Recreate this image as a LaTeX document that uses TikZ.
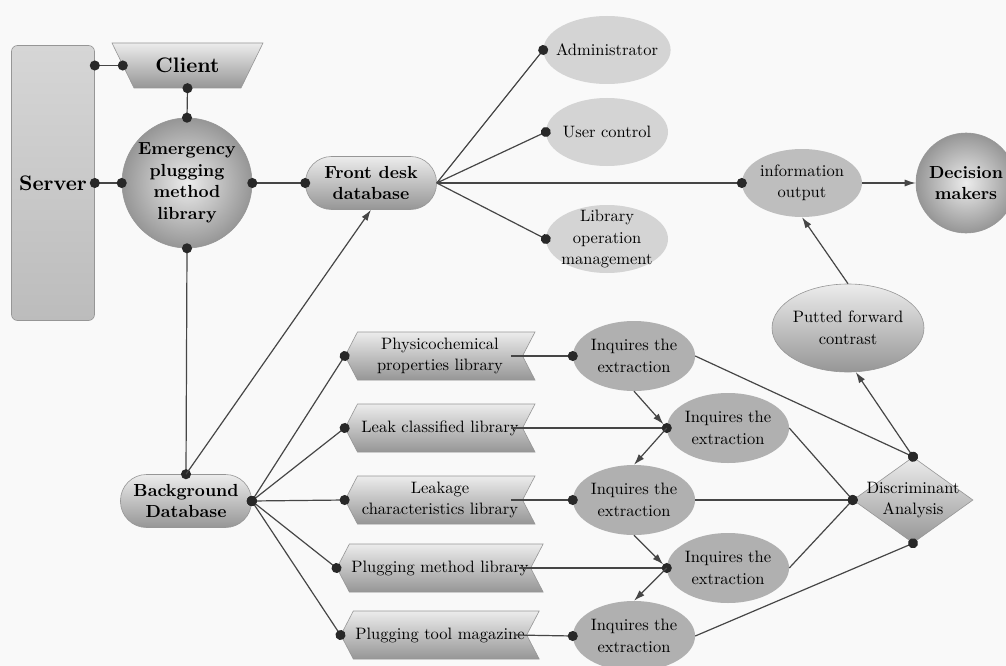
\documentclass[tikz,border=0pt]{standalone}
\usepackage{fontspec}
\setmainfont{lmroman10-regular}[Extension=.otf, BoldFont=lmroman10-bold]
\usetikzlibrary{shapes.geometric,shapes.symbols,arrows.meta}
\definecolor{bgcol}{RGB}{249,249,249}
\definecolor{linecol}{RGB}{70,70,70}
\definecolor{dotcol}{RGB}{40,40,40}
\definecolor{edgecol}{RGB}{150,150,150}
\definecolor{shtop}{RGB}{236,236,236}
\definecolor{shbot}{RGB}{150,150,150}
\definecolor{srvtop}{RGB}{214,214,214}
\definecolor{srvbot}{RGB}{188,188,188}
\definecolor{leafcol}{RGB}{212,212,212}
\definecolor{outcol}{RGB}{190,190,190}
\definecolor{querycol}{RGB}{176,176,176}
\tikzset{
  every node/.style={font=\fontsize{16.5}{21.5}\selectfont, align=center, text=black},
  hd/.style={font=\fontsize{17.5}{21.5}\selectfont\bfseries},
  big/.style={font=\fontsize{21}{26}\selectfont\bfseries},
  shiny/.style={draw=edgecol, line width=0.6pt, top color=shtop, bottom color=shbot},
  pill/.style={shiny, hd, rounded corners=26pt, minimum width=131, minimum height=53, inner sep=0},
  ball/.style={circle, draw=edgecol, line width=0.6pt, inner color=shtop, outer color=shbot, hd, minimum size=130, inner sep=0},
  leaf/.style={ellipse, fill=leafcol, minimum width=122, minimum height=68, inner xsep=-6pt, inner ysep=0},
  query/.style={ellipse, fill=querycol, minimum width=122, minimum height=70, inner sep=0},
  lib/.style={signal, signal to=west, signal from=east, signal pointer angle=125, shiny,
    minimum width=190, minimum height=48, inner sep=2pt},
  disc/.style={diamond, shiny, minimum width=120, minimum height=86, inner sep=0},
  link/.style={draw=linecol, line width=1.2pt},
  twodots/.style={link, {Circle[length=10pt,color=dotcol]}-{Circle[length=10pt,color=dotcol]},
    shorten <=-5pt, shorten >=-5pt},
  onedot/.style={link, -{Circle[length=10pt,color=dotcol]}, shorten >=-5pt},
  arr/.style={link, -{Latex[length=11pt,width=7pt]}},
  dotarr/.style={link, {Circle[length=10pt,color=dotcol]}-{Latex[length=11pt,width=7pt]}, shorten <=-5pt}
}
\begin{document}
\begin{tikzpicture}[x=1pt,y=-1pt]
\fill[bgcol] (0,0) rectangle (1006,666);
\useasboundingbox (0,0) rectangle (1006,666);

\node[shiny, big, rounded corners=6pt, minimum width=83, minimum height=275, inner sep=0,
  top color=srvtop, bottom color=srvbot] (srv) at (53,183) {Server};
\draw[shiny] (112,43) -- (263,43) -- (241,88) -- (134,88) -- cycle;
\node[big, minimum width=129, minimum height=45, inner sep=0] (cli) at (187.5,65.5) {Client};
\node[ball] (emg) at (187,183) {Emergency\\plugging\\method\\library};
\node[pill] (fdb) at (371,183) {Front desk\\database};
\node[pill] (bgd) at (186,501) {Background\\Database};

\node[leaf] (adm) at (607,50) {Administrator};
\node[leaf] (usr) at (607,132) {User control};
\node[leaf, inner ysep=-7pt] (lop) at (607,239) {Library\\operation\\management};
\node[leaf, fill=outcol, minimum width=120, inner xsep=0] (out) at (802,183) {information\\output};
\node[ball, minimum size=100] (dec) at (966,183) {Decision\\makers};
\node[ellipse, shiny, minimum width=152, minimum height=88,
  inner xsep=-4pt, inner ysep=0] (cmp) at (848,328) {Putted forward\\contrast};

\node[lib] (phy) at (440,356) {Physicochemical\\properties library};
\node[lib] (lkc) at (440,428) {Leak classified library};
\node[lib] (lch) at (440,500) {Leakage\\characteristics library};
\node[lib] (pmd) at (440,568) {Plugging method library};
\node[lib] (ptl) at (440,635) {Plugging tool magazine};

\node[query] (q1) at (634,356) {Inquires the\\extraction};
\node[query] (q2) at (728,428) {Inquires the\\extraction};
\node[query] (q3) at (634,500) {Inquires the\\extraction};
\node[query] (q4) at (728,568) {Inquires the\\extraction};
\node[query] (q5) at (634,636) {Inquires the\\extraction};

\node[disc] (dis) at (913,500) {};
\node (distext) at (dis) {Discriminant\\Analysis};

\draw[twodots] (srv.east |- cli.west) -- (cli.west);
\draw[twodots] (cli.south) -- (emg.north);
\draw[twodots] (srv.east) -- (emg.west);
\draw[twodots] (emg.east) -- (fdb.west);
\draw[twodots] (emg.south) -- (bgd.north);
\draw[arr] (bgd.north) -- (fdb.south);

\draw[onedot] (fdb.east) -- (adm.west);
\draw[onedot] (fdb.east) -- (usr.west);
\draw[onedot] (fdb.east) -- (lop.west);
\draw[onedot] (fdb.east) -- (out.west);
\draw[arr] (out.east) -- (dec.west);
\draw[arr] (cmp.north) -- (out.south);

\draw[twodots] (bgd.east) -- (phy.west);
\draw[twodots] (bgd.east) -- (lkc.west);
\draw[twodots] (bgd.east) -- (lch.west);
\draw[twodots] (bgd.east) -- (pmd.west);
\draw[twodots] (bgd.east) -- (ptl.west);

\draw[onedot] ([xshift=-12pt]phy.east) -- (q1.west);
\draw[onedot] ([xshift=-12pt]lkc.east) -- (q2.west);
\draw[onedot] ([xshift=-12pt]lch.east) -- (q3.west);
\draw[onedot] ([xshift=-12pt]pmd.east) -- (q4.west);
\draw[onedot] ([xshift=-12pt]ptl.east) -- (q5.west);

\draw[arr, shorten >=5pt] (q1.south) -- (q2.west);
\draw[arr] (q2.west) -- (q3.north);
\draw[arr, shorten >=5pt] (q3.south) -- (q4.west);
\draw[arr] (q4.west) -- (q5.north);

\draw[onedot] (q1.east) -- (dis.north);
\draw[onedot] (q2.east) -- (dis.west);
\draw[onedot] (q3.east) -- (dis.west);
\draw[onedot] (q4.east) -- (dis.west);
\draw[onedot] (q5.east) -- (dis.south);
\draw[dotarr] (dis.north) -- (cmp.-80);
\end{tikzpicture}
\end{document}
